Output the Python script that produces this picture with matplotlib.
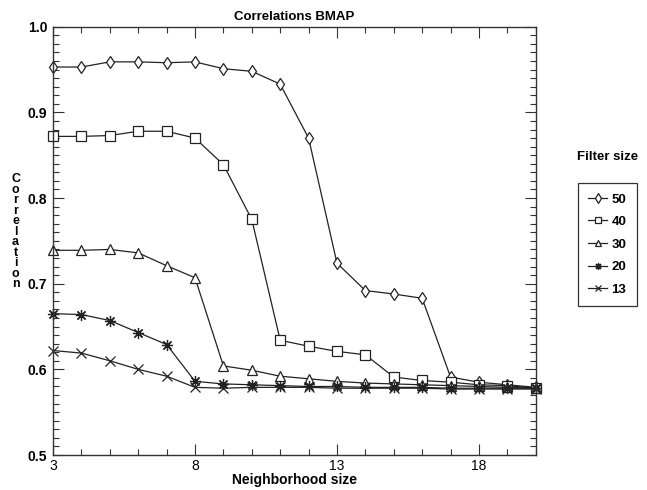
import matplotlib
matplotlib.use("Agg")
import matplotlib.pyplot as plt
from matplotlib.ticker import MultipleLocator, FixedLocator

# Neighborhood sizes (x) and correlation per filter size
neighborhood = [3, 4, 5, 6, 7, 8, 9, 10, 11, 12, 13, 14, 15, 16, 17, 18, 19, 20]

filter_sizes = ["50", "40", "30", "20", "13"]

corr_50 = [0.953, 0.953, 0.959, 0.959, 0.958, 0.959, 0.951, 0.948, 0.933, 0.870,
           0.724, 0.692, 0.688, 0.683, 0.591, 0.585, 0.582, 0.579]
corr_40 = [0.872, 0.872, 0.873, 0.878, 0.878, 0.870, 0.839, 0.775, 0.634, 0.627,
           0.621, 0.617, 0.591, 0.587, 0.585, 0.582, 0.581, 0.578]
corr_30 = [0.739, 0.739, 0.740, 0.736, 0.721, 0.707, 0.604, 0.599, 0.592, 0.589,
           0.586, 0.584, 0.583, 0.582, 0.581, 0.580, 0.579, 0.578]
corr_20 = [0.665, 0.664, 0.657, 0.643, 0.629, 0.586, 0.583, 0.582, 0.581, 0.580,
           0.580, 0.579, 0.579, 0.579, 0.578, 0.578, 0.578, 0.578]
corr_13 = [0.622, 0.619, 0.610, 0.600, 0.592, 0.579, 0.578, 0.579, 0.579, 0.579,
           0.578, 0.578, 0.578, 0.578, 0.577, 0.577, 0.577, 0.577]

series = [corr_50, corr_40, corr_30, corr_20, corr_13]
markers = ["d", "s", "^", (8, 2, 0), "x"]
msizes = [6, 7, 7, 8, 7]

plt.rcParams["font.family"] = ["Liberation Sans", "DejaVu Sans"]

fig = plt.figure(figsize=(6.47, 4.90), dpi=100)
ax = fig.add_axes([0.082, 0.0714, 0.746, 0.874])

handles = []
for vals, mk, ms, lab in zip(series, markers, msizes, filter_sizes):
    h, = ax.plot(neighborhood, vals, color="#222222", lw=0.9, marker=mk,
                 markersize=ms, markerfacecolor="white", markeredgecolor="#222222",
                 markeredgewidth=0.9, label=lab, clip_on=False)
    handles.append(h)

ax.set_xlim(3, 20)
ax.set_ylim(0.5, 1.0)
ax.xaxis.set_major_locator(FixedLocator([3, 8, 13, 18]))
ax.xaxis.set_minor_locator(MultipleLocator(1))
ax.yaxis.set_major_locator(MultipleLocator(0.1))
ax.yaxis.set_minor_locator(MultipleLocator(0.01))
ax.yaxis.set_major_formatter(matplotlib.ticker.FormatStrFormatter("%.1f"))

ax.tick_params(which="both", direction="in", top=True, right=True, color="#333333")
ax.tick_params(which="major", length=8, width=0.8)
ax.tick_params(which="minor", length=4, width=0.8)
ax.tick_params(axis="x", labelsize=10, pad=3)
ax.tick_params(axis="y", labelsize=10, pad=4)
for t in ax.get_yticklabels():
    t.set_fontweight("bold")
for sp in ax.spines.values():
    sp.set_linewidth(1.0)
    sp.set_color("#333333")

ax.set_title("Correlations BMAP", fontsize=9.5, fontweight="bold", pad=5)
ax.set_xlabel("Neighborhood size", fontsize=10, fontweight="bold", labelpad=0)

fig.text(0.024, 0.527, "\n".join("Correlation"), ha="center", va="center",
         fontsize=9, fontweight="bold", linespacing=0.83)

fig.text(0.939, 0.68, "Filter size", ha="center", va="center",
         fontsize=9.5, fontweight="bold")
leg = fig.legend(handles=handles, labels=filter_sizes, loc="upper left",
                 bbox_to_anchor=(0.893, 0.627), borderaxespad=0,
                 frameon=True, fancybox=False,
                 edgecolor="black", handlelength=1.4, handletextpad=0.35,
                 labelspacing=0.78, borderpad=0.8, numpoints=1,
                 prop={"weight": "bold", "size": 9.5})
leg.get_frame().set_linewidth(0.9)
for lh in leg.legend_handles:
    lh.set_markersize(5)

fig.savefig("out.png", dpi=100)
